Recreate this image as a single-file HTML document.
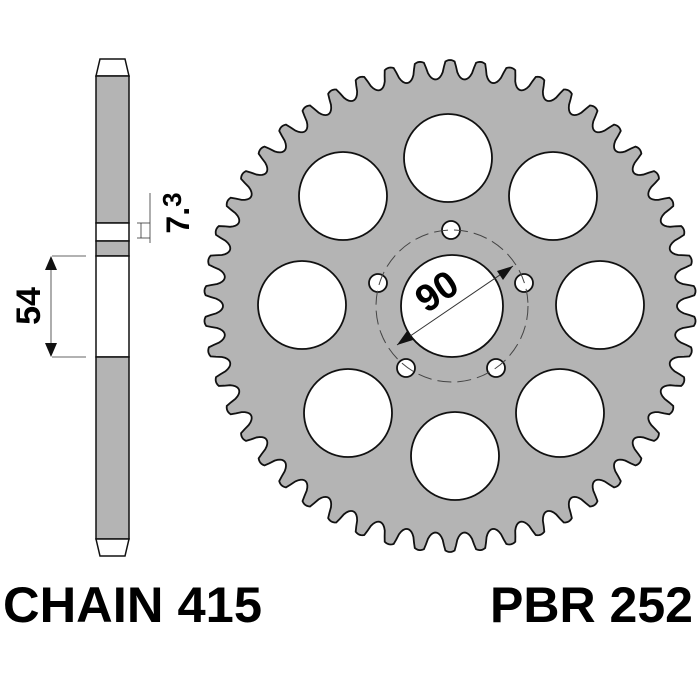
<!DOCTYPE html>
<html><head><style>
body{margin:0;background:#fff;}
svg{display:block}
</style></head><body>
<svg id="s" width="700" height="700" viewBox="0 0 700 700" xmlns="http://www.w3.org/2000/svg">
<g stroke="#111" stroke-width="1.5">
<polygon points="100,59 125,59 129,76 96,76" fill="#fff"/>
<rect x="96" y="76" width="33" height="147" fill="#b4b4b4"/>
<rect x="96" y="223" width="33" height="18" fill="#fff"/>
<rect x="96" y="241" width="33" height="15" fill="#b4b4b4"/>
<rect x="96" y="256" width="33" height="101" fill="#fff"/>
<rect x="96" y="357" width="33" height="182" fill="#b4b4b4"/>
<polygon points="96,539 129,539 125,556 100,556" fill="#fff"/>
</g>
<g stroke="#333" stroke-width="0.8" fill="none">
<line x1="52" y1="256" x2="86" y2="256"/><line x1="52" y1="357" x2="86" y2="357"/>
<line x1="51" y1="262" x2="51" y2="351"/>
<line x1="137" y1="223" x2="150" y2="223"/><line x1="137" y1="238" x2="150" y2="238"/>
<line x1="150" y1="193" x2="150" y2="243"/>
<line x1="141" y1="223" x2="141" y2="238"/>
</g>
<polygon points="51,256 45,270 57,270" fill="#111"/>
<polygon points="51,357 45,343 57,343" fill="#111"/>
<text transform="translate(40,306) rotate(-90)" font-family="Liberation Sans, sans-serif" font-weight="bold" font-size="34" text-anchor="middle">54</text>
<text transform="translate(189,213) rotate(-90)" font-family="Liberation Sans, sans-serif" font-weight="bold" font-size="32" text-anchor="middle">7.<tspan font-size="26" dy="-8">3</tspan></text>
<path id="gear" fill="#b4b4b4" stroke="#111" stroke-width="1.8" fill-rule="evenodd"/>
<g fill="#fff" stroke="#111" stroke-width="1.8">
<circle cx="448" cy="158" r="44"/>
<circle cx="553" cy="196" r="44"/>
<circle cx="600" cy="305" r="44"/>
<circle cx="560" cy="413" r="44"/>
<circle cx="455" cy="456" r="44"/>
<circle cx="348" cy="413" r="44"/>
<circle cx="302" cy="305" r="44"/>
<circle cx="343" cy="196" r="44"/>
<circle cx="452" cy="306" r="51"/>
<circle cx="451" cy="230" r="9"/>
<circle cx="378" cy="283" r="9"/>
<circle cx="524" cy="283" r="9"/>
<circle cx="406" cy="368" r="9"/>
<circle cx="496" cy="368" r="9"/>
</g>
<circle cx="452" cy="306" r="76" fill="none" stroke="#444" stroke-width="1" stroke-dasharray="14,6"/>
<line x1="397" y1="345" x2="513" y2="266" stroke="#333" stroke-width="1"/>
<polygon points="513,266 497,271 503,280" fill="#111"/>
<polygon points="397,345 413,340 407,331" fill="#111"/>
<text transform="translate(444,302) rotate(-34)" font-family="Liberation Sans, sans-serif" font-weight="bold" font-size="38" text-anchor="middle">90</text>
<text x="3" y="622" font-family="Liberation Sans, sans-serif" font-weight="bold" font-size="50" textLength="259" lengthAdjust="spacingAndGlyphs">CHAIN 415</text>
<text x="490" y="622" font-family="Liberation Sans, sans-serif" font-weight="bold" font-size="50" textLength="203" lengthAdjust="spacingAndGlyphs">PBR 252</text>
</svg>
<script>
(function(){
var cx=450,cy=306,R=246,r=227,N=50,d="",M=1000;
for(var i=0;i<=M;i++){
 var t=i/M*2*Math.PI;
 var ph=((t*N/(2*Math.PI))%1+1)%1;
 var u=Math.abs(ph-0.5)*2;
 var f;
 if(u>0.62) f=1-Math.pow((1-u)/0.38,2)*0.12;
 else { var v=u/0.62; f=0.88*(1-Math.sqrt(Math.max(0,1-v*v))); }
 var rr=r+(R-r)*f;
 var a=t-Math.PI/2;
 d+=(i?"L":"M")+(cx+rr*Math.cos(a)).toFixed(2)+","+(cy+rr*Math.sin(a)).toFixed(2);
}
document.getElementById("gear").setAttribute("d",d+"Z");
})();
</script>
</body></html>
